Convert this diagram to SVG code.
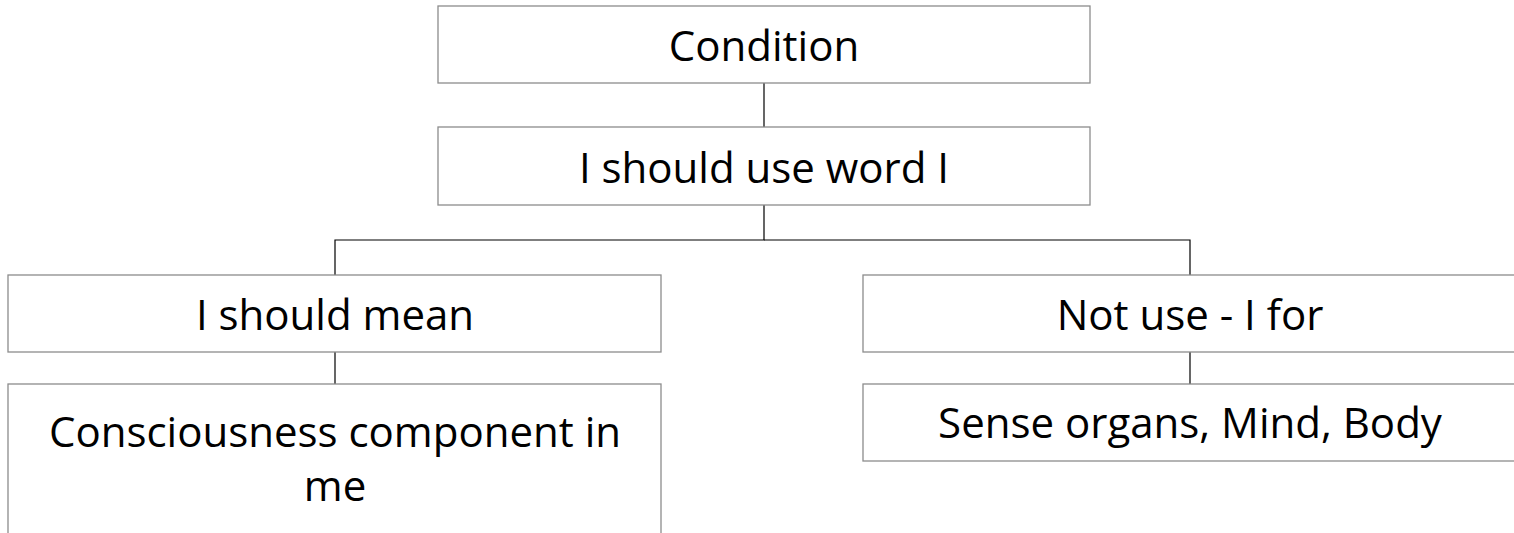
<svg xmlns="http://www.w3.org/2000/svg" width="1514" height="533" viewBox="0 0 1514 533">
  <style>
    .box { fill: #ffffff; stroke: #8c8c8c; stroke-width: 1.3; }
    .lbl { font-family: "Open Sans", "Liberation Sans", sans-serif; font-size: 42px; fill: #000000; text-anchor: middle; }
    .wire { fill: none; stroke: #000000; stroke-width: 1.2; }
  </style>
  <rect width="1514" height="533" fill="#ffffff"/>

  <!-- tree connectors -->
  <g id="connectors">
    <line class="wire" x1="764" y1="83" x2="764" y2="127"/>
    <polyline class="wire" points="764,205 764,240 335,240 335,275"/>
    <polyline class="wire" points="764,240 1190,240 1190,275"/>
    <line class="wire" x1="335" y1="352" x2="335" y2="384"/>
    <line class="wire" x1="1190" y1="352" x2="1190" y2="384"/>
  </g>

  <g id="condition">
    <rect class="box" x="438" y="6" width="652" height="77"/>
    <text class="lbl" x="764" y="61">Condition</text>
  </g>

  <g id="use-word-i">
    <rect class="box" x="438" y="127" width="652" height="78"/>
    <text class="lbl" x="764" y="183">I should use word I</text>
  </g>

  <g id="should-mean">
    <rect class="box" x="8" y="275" width="653" height="77"/>
    <text class="lbl" x="335" y="330">I should mean</text>
  </g>

  <g id="consciousness">
    <rect class="box" x="8" y="384" width="653" height="160"/>
    <text class="lbl" x="335" y="447">Consciousness component in</text>
    <text class="lbl" x="335" y="501">me</text>
  </g>

  <g id="not-use">
    <rect class="box" x="863" y="275" width="654" height="77"/>
    <text class="lbl" x="1190" y="330">Not use - I for</text>
  </g>

  <g id="sense-organs">
    <rect class="box" x="863" y="384" width="654" height="77"/>
    <text class="lbl" x="1190" y="438">Sense organs, Mind, Body</text>
  </g>
</svg>
